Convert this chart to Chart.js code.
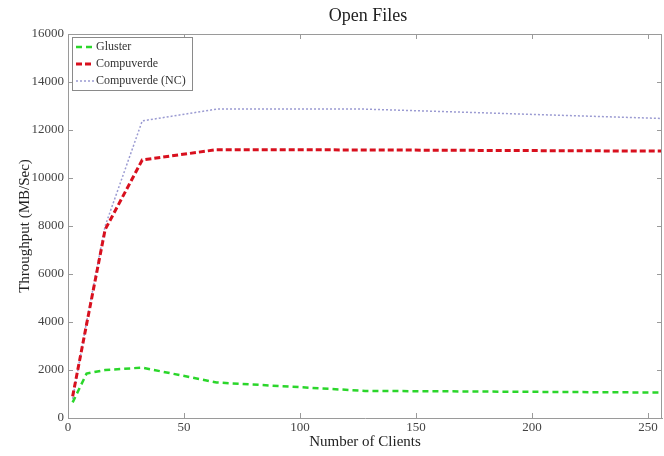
<!DOCTYPE html>
<html>
<head>
<meta charset="utf-8">
<script src="https://cdn.jsdelivr.net/npm/chart.js@4"></script>
<style>
  html, body { margin: 0; padding: 0; background: #fff; }
  #wrap { width: 664px; height: 456px; }
</style>
</head>
<body>
<div id="wrap"><canvas id="chart"></canvas></div>
<script>
// ------------------------
// DATA
// ------------------------
const clients = [2, 8, 16, 32, 64, 128, 256];
const gluster = [650, 1850, 2000, 2100, 1480, 1130, 1060];
const compuverde = [900, 3900, 7850, 10750, 11180, 11170, 11120];
const compuverdeNC = [800, 4000, 8000, 12380, 12870, 12870, 12480];

const xTicks = [0, 50, 100, 150, 200, 250];
const yTicks = [0, 2000, 4000, 6000, 8000, 10000, 12000, 14000, 16000];

const SERIF = "'Liberation Serif', 'DejaVu Serif', serif";
const AXIS_COLOR = "#9a9a9a";

function points(ys) {
  return clients.map((x, i) => ({ x, y: ys[i] }));
}

// ------------------------
// PLUGINS
// ------------------------
// box around the axes with small inward ticks (matlab style)
const frame = {
  id: "frame",
  afterDatasetsDraw(chart) {
    const { ctx, chartArea: a, scales } = chart;
    ctx.save();
    ctx.strokeStyle = AXIS_COLOR;
    ctx.lineWidth = 1;
    ctx.beginPath();
    ctx.moveTo(a.left, a.top + 0.5);
    ctx.lineTo(a.right, a.top + 0.5);
    ctx.moveTo(a.right - 0.5, a.top);
    ctx.lineTo(a.right - 0.5, a.bottom);
    xTicks.forEach(v => {
      const px = Math.round(scales.x.getPixelForValue(v)) + 0.5;
      ctx.moveTo(px, a.bottom);
      ctx.lineTo(px, a.bottom - 5);
      ctx.moveTo(px, a.top);
      ctx.lineTo(px, a.top + 5);
    });
    yTicks.forEach(v => {
      const py = Math.round(scales.y.getPixelForValue(v)) + 0.5;
      ctx.moveTo(a.left, py);
      ctx.lineTo(a.left + 5, py);
      ctx.moveTo(a.right, py);
      ctx.lineTo(a.right - 5, py);
    });
    ctx.stroke();

    // title over the axes
    ctx.fillStyle = "#222";
    ctx.font = "18px " + SERIF;
    ctx.textAlign = "center";
    ctx.textBaseline = "middle";
    ctx.fillText("Open Files", (a.left + a.right) / 2 + 3, 16);
    ctx.restore();
  }
};

// legend box in the top-left corner
const boxLegend = {
  id: "boxLegend",
  afterDraw(chart) {
    const { ctx } = chart;
    const left = 72, top = 37, w = 120, h = 53;
    ctx.save();
    ctx.fillStyle = "#fff";
    ctx.fillRect(left, top, w, h);
    ctx.strokeStyle = "#8a8a8a";
    ctx.lineWidth = 1;
    ctx.strokeRect(left + 0.5, top + 0.5, w, h);

    ctx.font = "12px " + SERIF;
    ctx.textBaseline = "middle";
    chart.data.datasets.forEach((ds, i) => {
      const y = 47 + i * 17;
      ctx.strokeStyle = ds.borderColor;
      ctx.lineWidth = ds.borderWidth;
      ctx.setLineDash(ds.borderDash);
      ctx.beginPath();
      ctx.moveTo(76, y);
      ctx.lineTo(94, y);
      ctx.stroke();
      ctx.setLineDash([]);
      ctx.fillStyle = "#333";
      ctx.fillText(ds.label, 96, y);
    });
    ctx.restore();
  }
};

// ------------------------
// CHART
// ------------------------
const ctx = document.getElementById("chart").getContext("2d");

new Chart(ctx, {
  type: "line",
  data: {
    datasets: [
      {
        label: "Gluster",
        data: points(gluster),
        borderColor: "#2bd62b",
        borderWidth: 2.5,
        borderDash: [6, 4],
        pointRadius: 0,
        tension: 0
      },
      {
        label: "Compuverde",
        data: points(compuverde),
        borderColor: "#d8101e",
        borderWidth: 3,
        borderDash: [6, 3],
        pointRadius: 0,
        tension: 0
      },
      {
        label: "Compuverde (NC)",
        data: points(compuverdeNC),
        borderColor: "#9b9bd2",
        borderWidth: 1.5,
        borderDash: [2, 2],
        pointRadius: 0,
        tension: 0
      }
    ]
  },
  plugins: [frame, boxLegend],
  options: {
    responsive: true,
    maintainAspectRatio: false,
    animation: false,
    layout: {
      padding: { top: 34, right: 2, bottom: 0, left: 0 }
    },
    plugins: {
      legend: { display: false },
      title: { display: false },
      tooltip: { enabled: false }
    },
    scales: {
      x: {
        type: "linear",
        min: 0,
        max: 256,
        afterFit: s => { s.height = 38; },
        afterBuildTicks: s => { s.ticks = xTicks.map(v => ({ value: v })); },
        grid: { display: false, drawTicks: false },
        border: { display: true, color: AXIS_COLOR, width: 1 },
        ticks: {
          padding: 2,
          color: "#444",
          font: { family: SERIF, size: 13 },
          maxRotation: 0
        },
        title: {
          display: true,
          text: "Number of Clients",
          color: "#222",
          font: { family: SERIF, size: 15 },
          padding: { top: 0, bottom: 5 }
        }
      },
      y: {
        type: "linear",
        min: 0,
        max: 16000,
        afterFit: s => { s.width = 68; },
        afterBuildTicks: s => { s.ticks = yTicks.map(v => ({ value: v })); },
        grid: { display: false, drawTicks: false },
        border: { display: true, color: AXIS_COLOR, width: 1 },
        ticks: {
          padding: 4,
          color: "#444",
          font: { family: SERIF, size: 13 },
          callback: v => String(v)
        },
        title: {
          display: true,
          text: "Throughput (MB/Sec)",
          color: "#222",
          font: { family: SERIF, size: 15 },
          padding: { top: 16, bottom: 0 }
        }
      }
    }
  }
});
</script>
</body>
</html>
